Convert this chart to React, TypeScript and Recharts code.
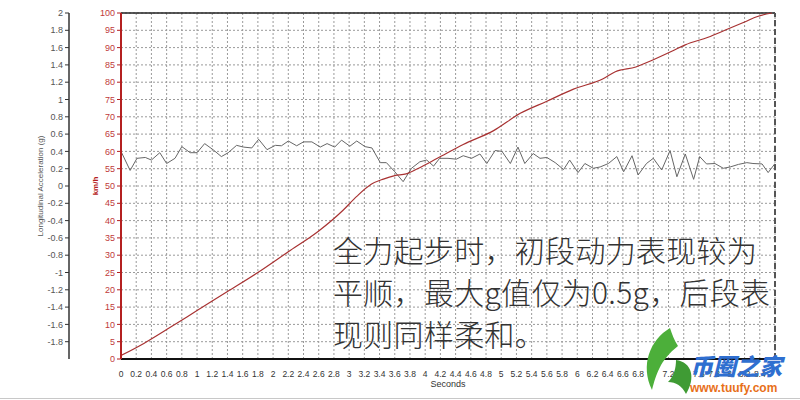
import React from "react";
import { LineChart, Line, XAxis, YAxis, CartesianGrid, ReferenceLine } from "recharts";

// Longitudinal acceleration (g) samples
const accelTime = [
  0, 0.12, 0.21, 0.32, 0.4, 0.51, 0.6, 0.71, 0.8, 0.91, 1.0, 1.1, 1.21, 1.32, 1.41, 1.52, 1.61, 1.72, 1.81, 1.92,
  2.03, 2.11, 2.2, 2.31, 2.4, 2.51, 2.62, 2.71, 2.81, 2.9, 3.01, 3.1, 3.21, 3.3, 3.41, 3.49, 3.6, 3.71, 3.82, 3.93,
  4.02, 4.11, 4.19, 4.3, 4.41, 4.5, 4.61, 4.72, 4.81, 4.92, 5.01, 5.12, 5.22, 5.31, 5.42, 5.51, 5.6, 5.71, 5.82, 5.9,
  6.01, 6.1, 6.21, 6.3, 6.41, 6.52, 6.61, 6.72, 6.8, 6.91, 7.0, 7.11, 7.22, 7.31, 7.42, 7.53, 7.61, 7.7, 7.81, 7.92,
  8.01, 8.12, 8.23, 8.31, 8.43, 8.51, 8.6,
];
const accelG = [
  0.4, 0.18, 0.32, 0.33, 0.3, 0.385, 0.26, 0.32, 0.455, 0.385, 0.385, 0.49, 0.42, 0.34, 0.385, 0.47, 0.45, 0.44, 0.54, 0.42,
  0.47, 0.465, 0.52, 0.465, 0.51, 0.51, 0.45, 0.49, 0.45, 0.53, 0.46, 0.52, 0.455, 0.44, 0.27, 0.27, 0.165, 0.05, 0.205, 0.28,
  0.3, 0.23, 0.32, 0.32, 0.31, 0.35, 0.32, 0.37, 0.26, 0.41, 0.4, 0.26, 0.45, 0.26, 0.375, 0.32, 0.33, 0.27, 0.19, 0.3,
  0.155, 0.26, 0.205, 0.22, 0.26, 0.34, 0.165, 0.35, 0.127, 0.26, 0.32, 0.185, 0.41, 0.107, 0.37, 0.077, 0.34, 0.255, 0.26, 0.205,
  0.22, 0.25, 0.27, 0.26, 0.255, 0.155, 0.26,
];

// Vehicle speed (km/h)
const speedTime = [
  0, 0.3, 0.6, 1.0, 1.4, 1.8, 2.2, 2.6, 2.92, 3.1, 3.29, 3.45, 3.6, 3.75, 3.9, 4.16, 4.5, 4.9, 5.25, 5.6,
  5.95, 6.34, 6.5, 6.77, 7.0, 7.25, 7.42, 7.72, 7.94, 8.2, 8.37, 8.56,
];
const speedKmh = [
  1, 4.5, 8.5, 14, 19.5, 25, 31, 37, 43, 47, 50.5, 52, 53, 53.5, 55, 58, 62, 66, 71, 74.5,
  78, 81, 83, 84.4, 86.5, 89, 90.8, 93, 95, 97.4, 99, 100,
];

const xTicks = [
  0, 0.2, 0.4, 0.6, 0.8, 1, 1.2, 1.4, 1.6, 1.8, 2, 2.2, 2.4, 2.6, 2.8, 3, 3.2, 3.4, 3.6, 3.8, 4, 4.2,
  4.4, 4.6, 4.8, 5, 5.2, 5.4, 5.6, 5.8, 6, 6.2, 6.4, 6.6, 6.8, 7, 7.2, 7.4, 7.6, 7.8, 8, 8.2, 8.4,
];
const speedTicks = [0, 5, 10, 15, 20, 25, 30, 35, 40, 45, 50, 55, 60, 65, 70, 75, 80, 85, 90, 95, 100];
const accelTicks = [2, 1.8, 1.6, 1.4, 1.2, 1, 0.8, 0.6, 0.4, 0.2, 0, -0.2, -0.4, -0.6, -0.8, -1, -1.2, -1.4, -1.6, -1.8];

const annotationLines = ["全力起步时，初段动力表现较为", "平顺，最大g值仅为0.5g，后段表", "现则同样柔和。"];

const accelData = accelTime.map((t, i) => ({ t, g: accelG[i] }));
const speedData = speedTime.map((t, i) => ({ t, v: speedKmh[i] }));

const FONT = "'Liberation Sans', Arial, sans-serif";
const RED = "#b42020";

export default function App() {
  return (
    <div style={{ position: "absolute", left: 0, top: 0, width: 800, height: 400, background: "#fff", overflow: "hidden" }}>
      <LineChart width={800} height={400} margin={{ top: 13, right: 25, bottom: 11, left: 0 }}>
        <CartesianGrid yAxisId="a" stroke="#9a9a9a" strokeDasharray="2 2" />
        <XAxis
          type="number"
          dataKey="t"
          domain={[0, 8.6]}
          ticks={xTicks}
          interval={0}
          allowDataOverflow
          height={30}
          axisLine={{ stroke: "#111", strokeWidth: 2 }}
          tickLine={false}
          tickMargin={6}
          tick={{ fontSize: 8.5, fill: "#333", fontFamily: FONT }}
          label={{ value: "Seconds", position: "insideBottom", offset: 2, fontSize: 9, fill: "#333", fontFamily: FONT }}
        />
        <YAxis
          yAxisId="a"
          orientation="left"
          type="number"
          domain={[0, 100]}
          ticks={speedTicks}
          interval={0}
          width={52}
          axisLine={{ stroke: RED, strokeWidth: 2 }}
          tickLine={{ stroke: RED }}
          tickSize={4}
          tickMargin={2}
          tick={{ fontSize: 9, fill: "#c03a3a", fontFamily: FONT }}
          label={{ value: "km/h", angle: -90, position: "center", dx: 0, fontSize: 8, fontWeight: "bold", fill: RED, fontFamily: FONT }}
        />
        <YAxis
          yAxisId="b"
          orientation="left"
          type="number"
          domain={[-2, 2]}
          ticks={accelTicks}
          interval={0}
          width={69}
          axisLine={{ stroke: "#333", strokeWidth: 1.5 }}
          tickLine={{ stroke: "#333" }}
          tickSize={4}
          tickMargin={2}
          tick={{ fontSize: 9, fill: "#555", fontFamily: FONT }}
          label={{ value: "Longitudinal Acceleration (g)", angle: -90, position: "center", dx: 6, fontSize: 8, fill: "#555", fontFamily: FONT }}
        />
        <ReferenceLine yAxisId="a" y={100} stroke="#222" strokeWidth={1.5} />
        <ReferenceLine yAxisId="a" x={8.6} stroke="#555" strokeWidth={2} strokeDasharray="6 3" />
        <Line
          yAxisId="b"
          data={accelData}
          dataKey="g"
          type="linear"
          stroke="#666"
          strokeWidth={1}
          dot={false}
          isAnimationActive={false}
        />
        <Line
          yAxisId="a"
          data={speedData}
          dataKey="v"
          type="monotone"
          stroke="#a83232"
          strokeWidth={1.2}
          dot={false}
          isAnimationActive={false}
        />
      </LineChart>
      <div
        style={{
          position: "absolute",
          left: 333,
          top: 228,
          fontFamily: "'Noto Sans CJK SC', sans-serif",
          fontWeight: 300,
          fontSize: 30,
          lineHeight: "42px",
          color: "#333",
          whiteSpace: "pre",
          letterSpacing: 0.3,
        }}
      >
        {annotationLines.map((l, i) => (
          <div key={i}>{l}</div>
        ))}
      </div>
      <svg style={{ position: "absolute", left: 630, top: 320 }} width={80} height={80}>
        <path d="M40 8 C20 20 10 45 22 70 C26 55 30 40 48 26 C44 20 42 14 40 8 Z" fill="#4caf3a" />
        <path d="M46 40 C62 42 66 58 56 74 C52 66 46 62 38 62 C44 56 46 48 46 40 Z" fill="#3f9b34" />
      </svg>
      <div
        style={{
          position: "absolute",
          left: 690,
          top: 350,
          fontFamily: "'Noto Sans CJK SC', sans-serif",
          fontWeight: 900,
          fontStyle: "italic",
          fontSize: 23,
          color: "#2f6fd0",
          letterSpacing: 0,
          lineHeight: "30px",
        }}
      >
        币圈之家
      </div>
      <div
        style={{
          position: "absolute",
          left: 690,
          top: 381,
          fontFamily: FONT,
          fontWeight: "bold",
          fontSize: 12,
          color: "#e8701a",
          lineHeight: "14px",
        }}
      >
        www.tuufy.com
      </div>
      <div style={{ position: "absolute", left: 0, top: 398, width: 800, height: 1, background: "#c8c8c8" }} />
    </div>
  );
}
